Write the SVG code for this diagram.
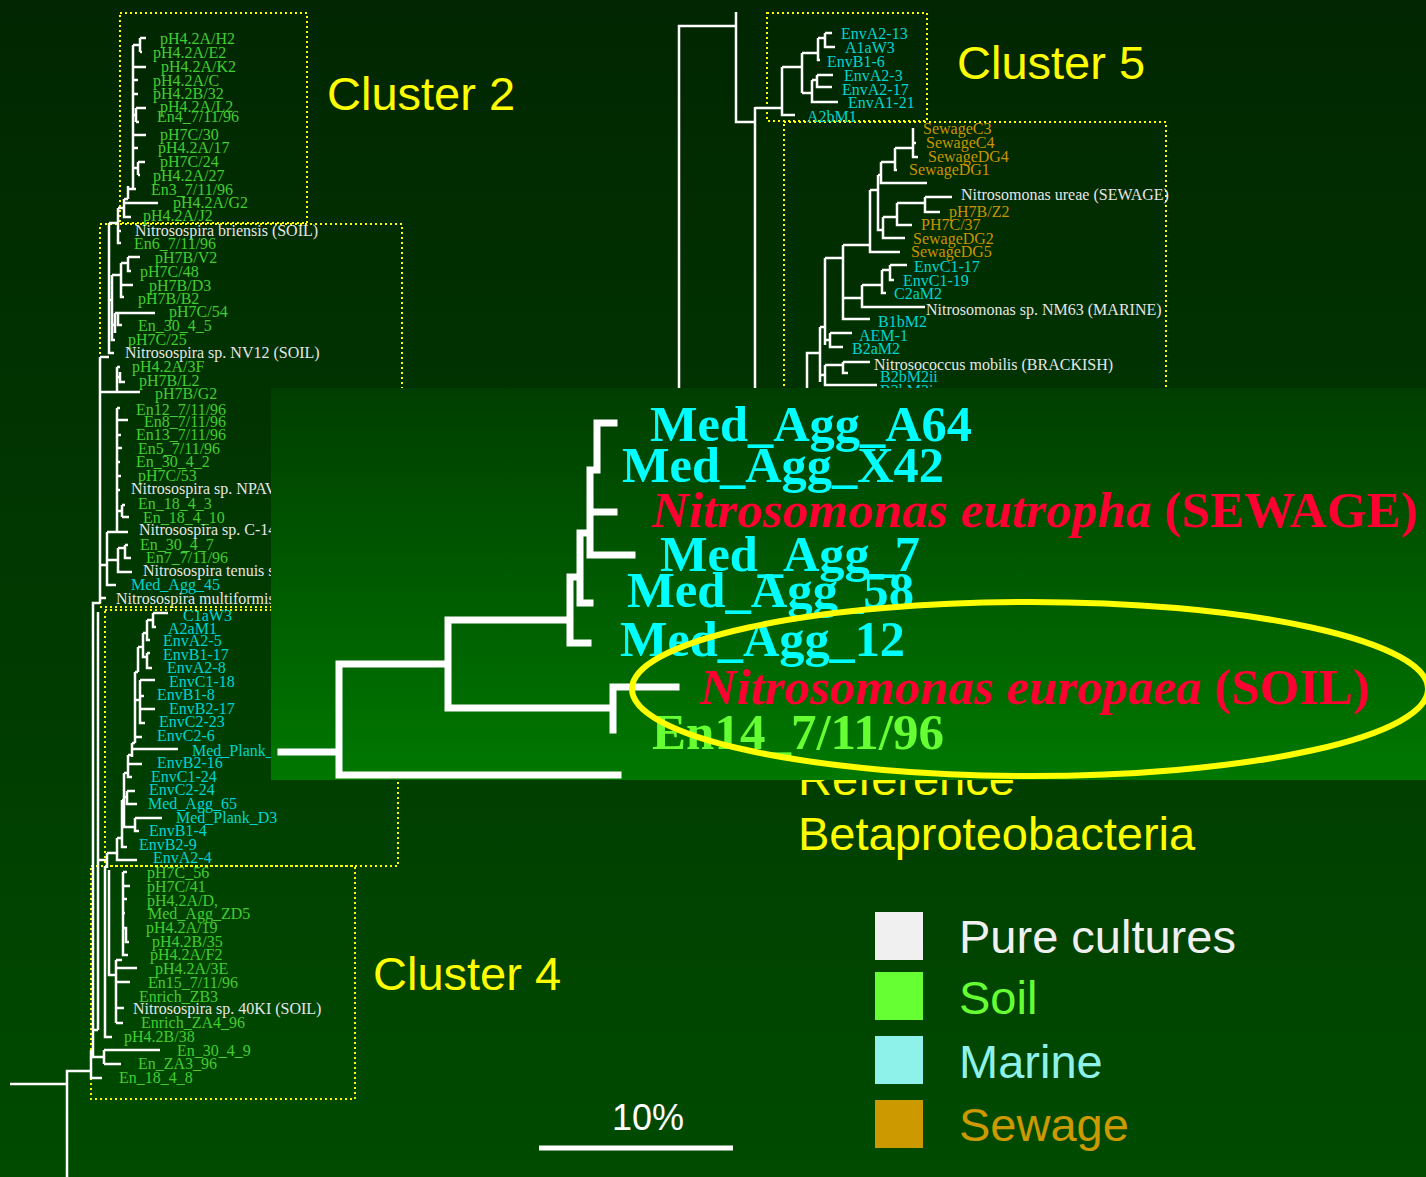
<svg xmlns="http://www.w3.org/2000/svg" width="1426" height="1177" viewBox="0 0 1426 1177">
<defs>
<linearGradient id="bg" x1="0" y1="0" x2="0" y2="1">
<stop offset="0" stop-color="#012601"/>
<stop offset="1" stop-color="#004b00"/>
</linearGradient>
<linearGradient id="ibg" x1="0" y1="0" x2="0" y2="1">
<stop offset="0" stop-color="#003e00"/>
<stop offset="1" stop-color="#007800"/>
</linearGradient>
<style>
.s{font-family:"Liberation Serif","Times New Roman",serif;font-size:16px}
.g{fill:#44cc33}.c{fill:#00d4d4}.w{fill:#e6e6e6}.o{fill:#c99400}
.b{font-family:"Liberation Serif","Times New Roman",serif;font-size:51px;font-weight:bold}
.bc{fill:#00ffff}.br{fill:#ff0033}.bg{fill:#66ff33}
.y{font-family:"Liberation Sans",Arial,sans-serif;font-size:47px;fill:#ffff00}
.tree{fill:none;stroke:#ffffff;stroke-width:2.5}
.itree{fill:none;stroke:#ffffff;stroke-width:7;stroke-linecap:square}
.box{fill:none;stroke:#ffff00;stroke-width:2;stroke-dasharray:2 3}
.leg{font-family:"Liberation Sans",Arial,sans-serif;font-size:47px}
</style>
</defs>
<rect x="0" y="0" width="1426" height="1177" fill="url(#bg)"/>

<g id="cluster-boxes">
<rect class="box" x="120" y="13" width="187" height="210"/>
<rect class="box" x="100" y="224" width="302" height="383"/>
<rect class="box" x="105" y="610" width="293" height="256"/>
<rect class="box" x="91" y="866" width="264" height="233"/>
<rect class="box" x="767" y="13" width="160" height="108"/>
<rect class="box" x="784" y="122" width="382" height="300"/>
</g>

<g id="connectors">
<path class="tree" d="M10 1084 H67 M67 1177 V1071 H91 M91 1050 V1078 H102 M91 1057 H104 M104 1050 V1064 M104 1050 H160 M104 1064 H121 M93 1057 V603 H100 M98 612 V1030 M93 1030 H98
M105 866 V1037 H112 M109 870 V975 H116 M116 960 V1023 M116 960 H122 M116 968 H137 M123 872 V955 H128 M123 872 H127 M123 886 H130 M123 899 H127 M123 913 H125 M123 928 H126 V942 H129 M116 982 H130 M116 1008 H124 M116 1023 H123
M100 357 V603 M100 357 H109 M109 223 V353 H114 M109 223 H118 V243 H121 M118 231 H121 M118 208 V223 M118 208 H124 M124 199 V217 H131 M124 203 H158 M124 199 H128 M128 186 V199 M128 189 H133 M133 45 V189 H136
M133 45 H140 M140 38 V52 M140 38 H146 M140 52 H142 M133 67 H146 M133 80 H138 M133 94 H138 M133 115 H136 M136 108 V122 M136 108 H146 M136 122 H139 M133 135 H146 M133 148 H138 M133 168 H138 M138 162 V175 M138 162 H145 M138 175 H140
M109 300 H112 M112 275 V340 H115 M112 275 H121 M121 263 V297 H124 M121 263 H128 M128 257 V271 H131 M128 257 H140 M121 285 H133 M112 325 H115 M115 313 V333 M115 313 H155 M118 313 V325 H122
M100 392 H140 M117 367 V392 M117 367 H120 M117 377 H120 M120 372 V382 H125
M100 565 H107 M107 532 V585 H116 M107 532 H117 M117 408 V532 H128 M117 408 H120 M117 420 H128 M117 435 H121 M117 448 H122 M117 462 H120 M117 476 H121 M117 490 H120 M117 511 H122 M122 505 V517 M122 505 H125 M122 517 H129 M107 560 H118 M118 548 V572 H132 M118 548 H125 M125 545 V558 H131 M125 545 H128 M100 598 H106
M98 860 H107 M107 853 V868 M107 853 H117 M117 838 V860 H137 M117 838 H122 M122 800 V847 H127 M122 800 H124 M124 773 V827 H135 M135 818 V831 H139 M135 818 H162 M124 797 H127 M127 791 V804 H137 M127 791 H135 M124 773 H128 M128 755 V777 H132 M128 764 H142 M128 755 H132 M132 743 V757 M132 749 H178 M132 743 H135 M135 672 V743 M135 737 H142 M135 700 H140 M140 680 V723 H145 M140 680 H155 M140 696 H144 M140 709 H155 M135 672 H138 M138 647 V672 M138 647 H143 M143 633 V657 H147 M147 653 V668 H152 M147 653 H150 M143 633 H147 M147 620 V640 H150 M147 620 H153 M153 613 V627 H156 M153 613 H168"/>
<path class="tree" d="M679 392 V26 H736 M736 12 V122 H755 M755 107 V392 M755 108 H782 M782 67 V115 H795 M782 67 H802 M802 53 V93 M802 53 H818 M818 38 V60 H820 M818 38 H825 M825 33 V47 H835 M825 33 H832 M802 93 H812 M812 80 V102 H838 M812 80 H817 M817 75 V87 H832 M817 75 H833
M807 392 V353 H820 M820 327 V382 M820 327 H825 M825 258 V345 M825 258 H843 M825 340 H830 M830 333 V347 H843 M830 333 H852 M820 375 H825 M825 365 V385 H877 M825 365 H843 M843 362 V373 H848 M843 362 H870
M843 245 V319 H870 M843 245 H870 M843 298 H862 M862 285 V307 H925 M862 285 H882 M882 270 V293 H886 M882 270 H890 M890 265 V280 H894 M890 265 H907
M870 190 V252 H900 M870 190 H878 M878 175 V230 H883 M878 175 H881 M881 162 V183 H927 M881 162 H895 M895 148 V170 H897 M895 148 H913 M913 128 V157 H918 M913 143 H916 M883 217 V238 H905 M883 217 H897 M897 203 V225 H912 M897 203 H925 M925 197 V212 H940 M925 197 H952"/>
</g>

<g id="cluster2-leaves" class="s g">
<text id="n-pH42A-H2" x="160" y="44">pH4.2A/H2</text>
<text id="n-pH42A-E2" x="153" y="58">pH4.2A/E2</text>
<text id="n-pH42A-K2" x="161" y="72">pH4.2A/K2</text>
<text id="n-pH42A-C" x="153" y="86">pH4.2A/C</text>
<text id="n-pH42B-32" x="153" y="99">pH4.2B/32</text>
<text id="n-pH42A-L2" x="160" y="112">pH4.2A/L2</text>
<text id="n-En4" x="157" y="122">En4_7/11/96</text>
<text id="n-pH7C-30" x="160" y="140">pH7C/30</text>
<text id="n-pH42A-17" x="158" y="153">pH4.2A/17</text>
<text id="n-pH7C-24" x="160" y="167">pH7C/24</text>
<text id="n-pH42A-27" x="153" y="181">pH4.2A/27</text>
<text id="n-En3" x="151" y="195">En3_7/11/96</text>
<text id="n-pH42A-G2" x="173" y="208">pH4.2A/G2</text>
<text id="n-pH42A-J2" x="143" y="221">pH4.2A/J2</text>
</g>

<g id="soil-leaves" class="s g">
<text id="n-briensis" class="w" x="135" y="236">Nitrosospira briensis (SOIL)</text>
<text id="n-En6" x="134" y="249">En6_7/11/96</text>
<text id="n-pH7B-V2" x="155" y="263">pH7B/V2</text>
<text id="n-pH7C-48" x="140" y="277">pH7C/48</text>
<text id="n-pH7B-D3" x="149" y="291">pH7B/D3</text>
<text id="n-pH7B-B2" x="138" y="304">pH7B/B2</text>
<text id="n-pH7C-54" x="169" y="317">pH7C/54</text>
<text id="n-En3045" x="138" y="331">En_30_4_5</text>
<text id="n-pH7C-25" x="128" y="345">pH7C/25</text>
<text id="n-NV12" class="w" x="125" y="358">Nitrosospira sp. NV12 (SOIL)</text>
<text id="n-pH42A-3F" x="132" y="372">pH4.2A/3F</text>
<text id="n-pH7B-L2" x="139" y="386">pH7B/L2</text>
<text id="n-pH7B-G2" x="155" y="399">pH7B/G2</text>
<text id="n-En12" x="136" y="415">En12_7/11/96</text>
<text id="n-En8" x="144" y="427">En8_7/11/96</text>
<text id="n-En13" x="136" y="440">En13_7/11/96</text>
<text id="n-En5" x="138" y="454">En5_7/11/96</text>
<text id="n-En3042" x="136" y="467">En_30_4_2</text>
<text id="n-pH7C-53" x="138" y="481">pH7C/53</text>
<text id="n-NPAV" class="w" x="131" y="494">Nitrosospira sp. NPAV</text>
<text id="n-En1843" x="138" y="509">En_18_4_3</text>
<text id="n-En18410" x="143" y="523">En_18_4_10</text>
<text id="n-C14" class="w" x="139" y="535">Nitrosospira sp. C-14</text>
<text id="n-En3047" x="140" y="550">En_30_4_7</text>
<text id="n-En7" x="146" y="563">En7_7/11/96</text>
<text id="n-tenuis" class="w" x="143" y="576">Nitrosospira tenuis s</text>
<text id="n-MedAgg45" class="c" x="131" y="590">Med_Agg_45</text>
<text id="n-multiformis" class="w" x="116" y="604">Nitrosospira multiformis</text>
</g>

<g id="marine-leaves" class="s c">
<text id="n-C1aW3" x="183" y="621">C1aW3</text>
<text id="n-A2aM1" x="168" y="634">A2aM1</text>
<text id="n-EnvA2-5" x="163" y="646">EnvA2-5</text>
<text id="n-EnvB1-17" x="163" y="660">EnvB1-17</text>
<text id="n-EnvA2-8" x="167" y="673">EnvA2-8</text>
<text id="n-EnvC1-18" x="169" y="687">EnvC1-18</text>
<text id="n-EnvB1-8" x="157" y="700">EnvB1-8</text>
<text id="n-EnvB2-17" x="169" y="714">EnvB2-17</text>
<text id="n-EnvC2-23" x="159" y="727">EnvC2-23</text>
<text id="n-EnvC2-6" x="157" y="741">EnvC2-6</text>
<text id="n-MedPlank" x="192" y="756">Med_Plank_</text>
<text id="n-EnvB2-16" x="157" y="768">EnvB2-16</text>
<text id="n-EnvC1-24" x="151" y="782">EnvC1-24</text>
<text id="n-EnvC2-24" x="149" y="795">EnvC2-24</text>
<text id="n-MedAgg65" x="148" y="809">Med_Agg_65</text>
<text id="n-MedPlankD3" x="176" y="823">Med_Plank_D3</text>
<text id="n-EnvB1-4" x="149" y="836">EnvB1-4</text>
<text id="n-EnvB2-9" x="139" y="850">EnvB2-9</text>
<text id="n-EnvA2-4" x="153" y="863">EnvA2-4</text>
</g>

<g id="cluster4-leaves" class="s g">
<text id="n-pH7C-56" x="147" y="878">pH7C_56</text>
<text id="n-pH7C-41" x="147" y="892">pH7C/41</text>
<text id="n-pH42A-D" x="147" y="906">pH4.2A/D,</text>
<text id="n-MedAggZD5" x="148" y="919">Med_Agg_ZD5</text>
<text id="n-pH42A-19" x="146" y="933">pH4.2A/19</text>
<text id="n-pH42B-35" x="152" y="947">pH4.2B/35</text>
<text id="n-pH42A-F2" x="150" y="960">pH4.2A/F2</text>
<text id="n-pH42A-3E" x="155" y="974">pH4.2A/3E</text>
<text id="n-En15" x="148" y="988">En15_7/11/96</text>
<text id="n-EnrichZB3" x="139" y="1002">Enrich_ZB3</text>
<text id="n-40KI" class="w" x="133" y="1014">Nitrosospira sp. 40KI (SOIL)</text>
<text id="n-EnrichZA4" x="141" y="1028">Enrich_ZA4_96</text>
<text id="n-pH42B-38" x="124" y="1042">pH4.2B/38</text>
<text id="n-En3049" x="177" y="1056">En_30_4_9</text>
<text id="n-EnZA396" x="138" y="1069">En_ZA3_96</text>
<text id="n-En1848" x="119" y="1083">En_18_4_8</text>
</g>

<g id="cluster5-leaves" class="s c">
<text id="n-EnvA2-13" x="841" y="39">EnvA2-13</text>
<text id="n-A1aW3" x="845" y="53">A1aW3</text>
<text id="n-EnvB1-6" x="827" y="67">EnvB1-6</text>
<text id="n-EnvA2-3" x="844" y="81">EnvA2-3</text>
<text id="n-EnvA2-17" x="842" y="95">EnvA2-17</text>
<text id="n-EnvA1-21" x="848" y="108">EnvA1-21</text>
<text id="n-A2bM1" x="807" y="122">A2bM1</text>
</g>

<g id="nitrosomonas-leaves" class="s o">
<text id="n-SewageC3" x="923" y="134">SewageC3</text>
<text id="n-SewageC4" x="926" y="148">SewageC4</text>
<text id="n-SewageDG4" x="928" y="162">SewageDG4</text>
<text id="n-SewageDG1" x="909" y="175">SewageDG1</text>
<text id="n-ureae" class="w" x="961" y="200">Nitrosomonas ureae (SEWAGE)</text>
<text id="n-pH7B-Z2" x="949" y="217">pH7B/Z2</text>
<text id="n-PH7C-37" x="921" y="230">PH7C/37</text>
<text id="n-SewageDG2" x="913" y="244">SewageDG2</text>
<text id="n-SewageDG5" x="911" y="257">SewageDG5</text>
<text id="n-EnvC1-17" class="c" x="914" y="272">EnvC1-17</text>
<text id="n-EnvC1-19" class="c" x="903" y="286">EnvC1-19</text>
<text id="n-C2aM2" class="c" x="894" y="299">C2aM2</text>
<text id="n-NM63" class="w" x="926" y="315">Nitrosomonas sp. NM63 (MARINE)</text>
<text id="n-B1bM2" class="c" x="878" y="327">B1bM2</text>
<text id="n-AEM-1" class="c" x="859" y="341">AEM-1</text>
<text id="n-B2aM2" class="c" x="852" y="354">B2aM2</text>
<text id="n-mobilis" class="w" x="874" y="370">Nitrosococcus mobilis (BRACKISH)</text>
<text id="n-B2bM2ii" class="c" x="880" y="382">B2bM2ii</text>
<text id="n-B2bM2i" class="c" x="880" y="396">B2bM2i</text>
</g>

<g id="cluster-titles" class="y">
<text x="327" y="110">Cluster 2</text>
<text x="957" y="79">Cluster 5</text>
<text x="373" y="990">Cluster 4</text>
<text x="798" y="795">Reference</text>
</g>

<g id="inset">
<rect x="271" y="388" width="1155" height="392" fill="url(#ibg)"/>
<path class="itree" d="M281 752 H339 M339 664 V775 H618 M339 664 H448 M448 620 V708 H611 M448 620 H570 M570 577 V643 H588 M570 577 H580 M580 533 V603 H590 M580 533 H590 M590 470 V555 H632 M590 512 H614 M590 470 H597 M597 423 V470 M597 423 H614 M613 687 V730 M613 687 H676"/>
<g id="inset-leaves" class="b">
<text id="n-MedAggA64" class="bc" x="650" y="441" textLength="322" lengthAdjust="spacingAndGlyphs">Med_Agg_A64</text>
<text id="n-MedAggX42" class="bc" x="622" y="482" textLength="322" lengthAdjust="spacingAndGlyphs">Med_Agg_X42</text>
<text id="n-eutropha" class="br" x="652" y="527" textLength="766" lengthAdjust="spacingAndGlyphs"><tspan font-style="italic">Nitrosomonas eutropha</tspan> (SEWAGE)</text>
<text id="n-MedAgg7" class="bc" x="660" y="571" textLength="260" lengthAdjust="spacingAndGlyphs">Med_Agg_7</text>
<text id="n-MedAgg58" class="bc" x="627" y="607" textLength="287" lengthAdjust="spacingAndGlyphs">Med_Agg_58</text>
<text id="n-MedAgg12" class="bc" x="620" y="656" textLength="285" lengthAdjust="spacingAndGlyphs">Med_Agg_12</text>
<text id="n-europaea" class="br" x="700" y="704" textLength="670" lengthAdjust="spacingAndGlyphs"><tspan font-style="italic">Nitrosomonas europaea</tspan> (SOIL)</text>
<text id="n-En14" class="bg" x="652" y="749" textLength="292" lengthAdjust="spacingAndGlyphs">En14_7/11/96</text>
</g>
<ellipse cx="1030" cy="689" rx="398" ry="87" fill="none" stroke="#ffff00" stroke-width="6"/>
</g>

<text class="y" x="798" y="850">Betaproteobacteria</text>

<g id="legend" class="leg">
<rect x="875" y="912" width="48" height="48" fill="#f0f0f0"/>
<text x="959" y="953" fill="#f0f0f0">Pure cultures</text>
<rect x="875" y="972" width="48" height="48" fill="#66ff33"/>
<text x="959" y="1014" fill="#66ff33">Soil</text>
<rect x="875" y="1036" width="48" height="48" fill="#8ef2ea"/>
<text x="959" y="1078" fill="#8ef2ea">Marine</text>
<rect x="875" y="1100" width="48" height="48" fill="#cc9900"/>
<text x="959" y="1141" fill="#cc9900">Sewage</text>
</g>

<g id="scale-bar">
<text x="612" y="1130" font-family="Liberation Sans, Arial, sans-serif" font-size="36" fill="#ffffff">10%</text>
<line x1="539" y1="1148" x2="733" y2="1148" stroke="#ffffff" stroke-width="5"/>
</g>
</svg>
